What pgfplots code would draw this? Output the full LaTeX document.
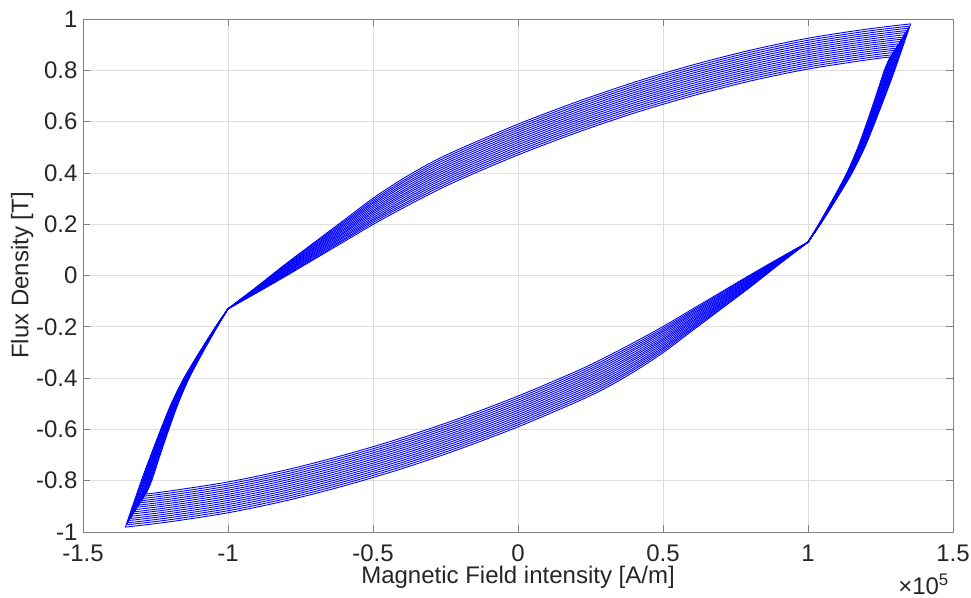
\documentclass[border=0pt]{standalone}
\usepackage{pgfplots}
\pgfplotsset{compat=1.18}
\usepackage{fontspec}
\setmainfont{Liberation Sans}
\definecolor{txtgray}{RGB}{38,38,38}
\definecolor{gridgray}{RGB}{222,222,222}
\definecolor{framegray}{RGB}{130,130,130}
\definecolor{mblue}{RGB}{0,0,255}
\begin{document}
\begin{tikzpicture}
\useasboundingbox (-83bp,-66bp) rectangle (888bp,532bp);
\begin{axis}[
  name=ax,
  at={(0bp,0bp)}, anchor=south west,
  scale only axis, width=870bp, height=513bp,
  xmin=-1.5, xmax=1.5, ymin=-1, ymax=1,
  xtick={-1.5,-1,-0.5,0,0.5,1,1.5},
  xticklabels={-1.5,-1,-0.5,0,0.5,1,1.5},
  ytick={-1,-0.8,-0.6,-0.4,-0.2,0,0.2,0.4,0.6,0.8,1},
  yticklabels={-1,-0.8,-0.6,-0.4,-0.2,0,0.2,0.4,0.6,0.8,1},
  grid=major,
  major grid style={draw=gridgray, line width=0.6bp},
  tick align=inside, tick pos=both,
  major tick length=7bp,
  axis line style={draw=framegray, line width=0.7bp},
  major tick style={draw=framegray, line width=0.7bp},
  tick label style={font=\fontsize{24bp}{28bp}\selectfont, text=txtgray},
  xticklabel style={yshift=-9bp},
  yticklabel style={xshift=-2bp},
  label style={font=\fontsize{24bp}{28bp}\selectfont, text=txtgray},
  xlabel={Magnetic Field intensity [A/m]},
  ylabel={Flux Density [T]},
  xlabel style={at={(axis description cs:0.5,-0.088)}, anchor=center},
  ylabel style={at={(axis description cs:-0.07,0.5)}, anchor=center},
  cycle list={mblue\\},
  no markers,
  every axis plot/.append style={line width=0.9bp, line join=round, smooth},
]
% loop 1
\addplot coordinates {(1,0.13)(1.037,0.2)(1.087,0.3)(1.134,0.4)(1.172,0.5)(1.204,0.6)(1.234,0.7)(1.263,0.8)(1.283,0.852)};
\addplot coordinates {(1.283,0.852)(1.2,0.840)(1,0.805)(0.8,0.758)(0.6,0.700)(0.4,0.633)(0.2,0.556)(0,0.470)(-0.2,0.374)(-0.3,0.320)(-0.4,0.261)(-0.5,0.199)(-0.6,0.132)(-0.7,0.065)(-0.8,-0.002)(-0.9,-0.067)(-1,-0.13)};
\addplot coordinates {(-1,-0.13)(-1.037,-0.2)(-1.087,-0.3)(-1.134,-0.4)(-1.172,-0.5)(-1.204,-0.6)(-1.234,-0.7)(-1.263,-0.8)(-1.283,-0.852)};
\addplot coordinates {(-1.283,-0.852)(-1.2,-0.840)(-1,-0.805)(-0.8,-0.758)(-0.6,-0.700)(-0.4,-0.633)(-0.2,-0.556)(0,-0.470)(0.2,-0.374)(0.3,-0.320)(0.4,-0.261)(0.5,-0.199)(0.6,-0.132)(0.7,-0.065)(0.8,0.002)(0.9,0.067)(1,0.13)};
% loop 2
\addplot coordinates {(1,0.13)(1.038,0.2)(1.088,0.3)(1.135,0.4)(1.174,0.5)(1.206,0.6)(1.236,0.7)(1.266,0.8)(1.288,0.860)};
\addplot coordinates {(1.288,0.860)(1.2,0.848)(1,0.813)(0.8,0.766)(0.6,0.708)(0.4,0.641)(0.2,0.564)(0,0.478)(-0.2,0.382)(-0.3,0.328)(-0.4,0.269)(-0.5,0.206)(-0.6,0.138)(-0.7,0.069)(-0.8,0.001)(-0.9,-0.065)(-1,-0.13)};
\addplot coordinates {(-1,-0.13)(-1.038,-0.2)(-1.088,-0.3)(-1.135,-0.4)(-1.174,-0.5)(-1.206,-0.6)(-1.236,-0.7)(-1.266,-0.8)(-1.288,-0.860)};
\addplot coordinates {(-1.288,-0.860)(-1.2,-0.848)(-1,-0.813)(-0.8,-0.766)(-0.6,-0.708)(-0.4,-0.641)(-0.2,-0.564)(0,-0.478)(0.2,-0.382)(0.3,-0.328)(0.4,-0.269)(0.5,-0.206)(0.6,-0.138)(0.7,-0.069)(0.8,-0.001)(0.9,0.065)(1,0.13)};
% loop 3
\addplot coordinates {(1,0.13)(1.038,0.2)(1.089,0.3)(1.136,0.4)(1.175,0.5)(1.208,0.6)(1.238,0.7)(1.268,0.8)(1.292,0.869)};
\addplot coordinates {(1.292,0.869)(1.2,0.856)(1,0.821)(0.8,0.774)(0.6,0.716)(0.4,0.649)(0.2,0.572)(0,0.486)(-0.2,0.390)(-0.3,0.336)(-0.4,0.276)(-0.5,0.213)(-0.6,0.143)(-0.7,0.074)(-0.8,0.004)(-0.9,-0.064)(-1,-0.13)};
\addplot coordinates {(-1,-0.13)(-1.038,-0.2)(-1.089,-0.3)(-1.136,-0.4)(-1.175,-0.5)(-1.208,-0.6)(-1.238,-0.7)(-1.268,-0.8)(-1.292,-0.869)};
\addplot coordinates {(-1.292,-0.869)(-1.2,-0.856)(-1,-0.821)(-0.8,-0.774)(-0.6,-0.716)(-0.4,-0.649)(-0.2,-0.572)(0,-0.486)(0.2,-0.390)(0.3,-0.336)(0.4,-0.276)(0.5,-0.213)(0.6,-0.143)(0.7,-0.074)(0.8,-0.004)(0.9,0.064)(1,0.13)};
% loop 4
\addplot coordinates {(1,0.13)(1.038,0.2)(1.089,0.3)(1.138,0.4)(1.177,0.5)(1.210,0.6)(1.241,0.7)(1.270,0.8)(1.297,0.878)};
\addplot coordinates {(1.297,0.878)(1.2,0.864)(1,0.829)(0.8,0.782)(0.6,0.724)(0.4,0.657)(0.2,0.580)(0,0.494)(-0.2,0.398)(-0.3,0.344)(-0.4,0.284)(-0.5,0.219)(-0.6,0.149)(-0.7,0.078)(-0.8,0.008)(-0.9,-0.062)(-1,-0.13)};
\addplot coordinates {(-1,-0.13)(-1.038,-0.2)(-1.089,-0.3)(-1.138,-0.4)(-1.177,-0.5)(-1.210,-0.6)(-1.241,-0.7)(-1.270,-0.8)(-1.297,-0.878)};
\addplot coordinates {(-1.297,-0.878)(-1.2,-0.864)(-1,-0.829)(-0.8,-0.782)(-0.6,-0.724)(-0.4,-0.657)(-0.2,-0.580)(0,-0.494)(0.2,-0.398)(0.3,-0.344)(0.4,-0.284)(0.5,-0.219)(0.6,-0.149)(0.7,-0.078)(0.8,-0.008)(0.9,0.062)(1,0.13)};
% loop 5
\addplot coordinates {(1,0.13)(1.039,0.2)(1.090,0.3)(1.139,0.4)(1.179,0.5)(1.212,0.6)(1.243,0.7)(1.273,0.8)(1.302,0.886)};
\addplot coordinates {(1.302,0.886)(1.2,0.872)(1,0.837)(0.8,0.790)(0.6,0.732)(0.4,0.665)(0.2,0.588)(0,0.502)(-0.2,0.406)(-0.3,0.352)(-0.4,0.291)(-0.5,0.226)(-0.6,0.154)(-0.7,0.083)(-0.8,0.011)(-0.9,-0.061)(-1,-0.13)};
\addplot coordinates {(-1,-0.13)(-1.039,-0.2)(-1.090,-0.3)(-1.139,-0.4)(-1.179,-0.5)(-1.212,-0.6)(-1.243,-0.7)(-1.273,-0.8)(-1.302,-0.886)};
\addplot coordinates {(-1.302,-0.886)(-1.2,-0.872)(-1,-0.837)(-0.8,-0.790)(-0.6,-0.732)(-0.4,-0.665)(-0.2,-0.588)(0,-0.502)(0.2,-0.406)(0.3,-0.352)(0.4,-0.291)(0.5,-0.226)(0.6,-0.154)(0.7,-0.083)(0.8,-0.011)(0.9,0.061)(1,0.13)};
% loop 6
\addplot coordinates {(1,0.13)(1.039,0.2)(1.091,0.3)(1.140,0.4)(1.180,0.5)(1.213,0.6)(1.245,0.7)(1.275,0.8)(1.307,0.895)};
\addplot coordinates {(1.307,0.895)(1.2,0.880)(1,0.845)(0.8,0.798)(0.6,0.740)(0.4,0.673)(0.2,0.596)(0,0.510)(-0.2,0.414)(-0.3,0.360)(-0.4,0.299)(-0.5,0.233)(-0.6,0.160)(-0.7,0.087)(-0.8,0.014)(-0.9,-0.059)(-1,-0.13)};
\addplot coordinates {(-1,-0.13)(-1.039,-0.2)(-1.091,-0.3)(-1.140,-0.4)(-1.180,-0.5)(-1.213,-0.6)(-1.245,-0.7)(-1.275,-0.8)(-1.307,-0.895)};
\addplot coordinates {(-1.307,-0.895)(-1.2,-0.880)(-1,-0.845)(-0.8,-0.798)(-0.6,-0.740)(-0.4,-0.673)(-0.2,-0.596)(0,-0.510)(0.2,-0.414)(0.3,-0.360)(0.4,-0.299)(0.5,-0.233)(0.6,-0.160)(0.7,-0.087)(0.8,-0.014)(0.9,0.059)(1,0.13)};
% loop 7
\addplot coordinates {(1,0.13)(1.039,0.2)(1.092,0.3)(1.141,0.4)(1.182,0.5)(1.215,0.6)(1.247,0.7)(1.277,0.8)(1.311,0.903)};
\addplot coordinates {(1.311,0.903)(1.2,0.888)(1,0.853)(0.8,0.806)(0.6,0.748)(0.4,0.681)(0.2,0.604)(0,0.518)(-0.2,0.422)(-0.3,0.368)(-0.4,0.307)(-0.5,0.240)(-0.6,0.166)(-0.7,0.091)(-0.8,0.017)(-0.9,-0.057)(-1,-0.13)};
\addplot coordinates {(-1,-0.13)(-1.039,-0.2)(-1.092,-0.3)(-1.141,-0.4)(-1.182,-0.5)(-1.215,-0.6)(-1.247,-0.7)(-1.277,-0.8)(-1.311,-0.903)};
\addplot coordinates {(-1.311,-0.903)(-1.2,-0.888)(-1,-0.853)(-0.8,-0.806)(-0.6,-0.748)(-0.4,-0.681)(-0.2,-0.604)(0,-0.518)(0.2,-0.422)(0.3,-0.368)(0.4,-0.307)(0.5,-0.240)(0.6,-0.166)(0.7,-0.091)(0.8,-0.017)(0.9,0.057)(1,0.13)};
% loop 8
\addplot coordinates {(1,0.13)(1.040,0.2)(1.093,0.3)(1.142,0.4)(1.183,0.5)(1.217,0.6)(1.249,0.7)(1.280,0.8)(1.316,0.912)};
\addplot coordinates {(1.316,0.912)(1.2,0.896)(1,0.861)(0.8,0.814)(0.6,0.756)(0.4,0.689)(0.2,0.612)(0,0.526)(-0.2,0.430)(-0.3,0.376)(-0.4,0.314)(-0.5,0.247)(-0.6,0.171)(-0.7,0.096)(-0.8,0.020)(-0.9,-0.056)(-1,-0.13)};
\addplot coordinates {(-1,-0.13)(-1.040,-0.2)(-1.093,-0.3)(-1.142,-0.4)(-1.183,-0.5)(-1.217,-0.6)(-1.249,-0.7)(-1.280,-0.8)(-1.316,-0.912)};
\addplot coordinates {(-1.316,-0.912)(-1.2,-0.896)(-1,-0.861)(-0.8,-0.814)(-0.6,-0.756)(-0.4,-0.689)(-0.2,-0.612)(0,-0.526)(0.2,-0.430)(0.3,-0.376)(0.4,-0.314)(0.5,-0.247)(0.6,-0.171)(0.7,-0.096)(0.8,-0.020)(0.9,0.056)(1,0.13)};
% loop 9
\addplot coordinates {(1,0.13)(1.040,0.2)(1.093,0.3)(1.144,0.4)(1.185,0.5)(1.219,0.6)(1.251,0.7)(1.282,0.8)(1.321,0.921)};
\addplot coordinates {(1.321,0.921)(1.2,0.904)(1,0.869)(0.8,0.822)(0.6,0.764)(0.4,0.697)(0.2,0.620)(0,0.534)(-0.2,0.438)(-0.3,0.384)(-0.4,0.322)(-0.5,0.253)(-0.6,0.177)(-0.7,0.100)(-0.8,0.024)(-0.9,-0.054)(-1,-0.13)};
\addplot coordinates {(-1,-0.13)(-1.040,-0.2)(-1.093,-0.3)(-1.144,-0.4)(-1.185,-0.5)(-1.219,-0.6)(-1.251,-0.7)(-1.282,-0.8)(-1.321,-0.921)};
\addplot coordinates {(-1.321,-0.921)(-1.2,-0.904)(-1,-0.869)(-0.8,-0.822)(-0.6,-0.764)(-0.4,-0.697)(-0.2,-0.620)(0,-0.534)(0.2,-0.438)(0.3,-0.384)(0.4,-0.322)(0.5,-0.253)(0.6,-0.177)(0.7,-0.100)(0.8,-0.024)(0.9,0.054)(1,0.13)};
% loop 10
\addplot coordinates {(1,0.13)(1.040,0.2)(1.094,0.3)(1.145,0.4)(1.186,0.5)(1.221,0.6)(1.253,0.7)(1.285,0.8)(1.326,0.929)};
\addplot coordinates {(1.326,0.929)(1.2,0.912)(1,0.877)(0.8,0.830)(0.6,0.772)(0.4,0.705)(0.2,0.628)(0,0.542)(-0.2,0.446)(-0.3,0.392)(-0.4,0.329)(-0.5,0.260)(-0.6,0.182)(-0.7,0.105)(-0.8,0.027)(-0.9,-0.053)(-1,-0.13)};
\addplot coordinates {(-1,-0.13)(-1.040,-0.2)(-1.094,-0.3)(-1.145,-0.4)(-1.186,-0.5)(-1.221,-0.6)(-1.253,-0.7)(-1.285,-0.8)(-1.326,-0.929)};
\addplot coordinates {(-1.326,-0.929)(-1.2,-0.912)(-1,-0.877)(-0.8,-0.830)(-0.6,-0.772)(-0.4,-0.705)(-0.2,-0.628)(0,-0.542)(0.2,-0.446)(0.3,-0.392)(0.4,-0.329)(0.5,-0.260)(0.6,-0.182)(0.7,-0.105)(0.8,-0.027)(0.9,0.053)(1,0.13)};
% loop 11
\addplot coordinates {(1,0.13)(1.041,0.2)(1.095,0.3)(1.146,0.4)(1.188,0.5)(1.223,0.6)(1.255,0.7)(1.287,0.8)(1.330,0.938)};
\addplot coordinates {(1.330,0.938)(1.2,0.920)(1,0.885)(0.8,0.838)(0.6,0.780)(0.4,0.713)(0.2,0.636)(0,0.550)(-0.2,0.454)(-0.3,0.400)(-0.4,0.337)(-0.5,0.267)(-0.6,0.188)(-0.7,0.109)(-0.8,0.030)(-0.9,-0.051)(-1,-0.13)};
\addplot coordinates {(-1,-0.13)(-1.041,-0.2)(-1.095,-0.3)(-1.146,-0.4)(-1.188,-0.5)(-1.223,-0.6)(-1.255,-0.7)(-1.287,-0.8)(-1.330,-0.938)};
\addplot coordinates {(-1.330,-0.938)(-1.2,-0.920)(-1,-0.885)(-0.8,-0.838)(-0.6,-0.780)(-0.4,-0.713)(-0.2,-0.636)(0,-0.550)(0.2,-0.454)(0.3,-0.400)(0.4,-0.337)(0.5,-0.267)(0.6,-0.188)(0.7,-0.109)(0.8,-0.030)(0.9,0.051)(1,0.13)};
% loop 12
\addplot coordinates {(1,0.13)(1.041,0.2)(1.096,0.3)(1.147,0.4)(1.189,0.5)(1.224,0.6)(1.257,0.7)(1.289,0.8)(1.335,0.947)};
\addplot coordinates {(1.335,0.947)(1.2,0.928)(1,0.893)(0.8,0.846)(0.6,0.788)(0.4,0.721)(0.2,0.644)(0,0.558)(-0.2,0.462)(-0.3,0.408)(-0.4,0.345)(-0.5,0.274)(-0.6,0.194)(-0.7,0.113)(-0.8,0.033)(-0.9,-0.049)(-1,-0.13)};
\addplot coordinates {(-1,-0.13)(-1.041,-0.2)(-1.096,-0.3)(-1.147,-0.4)(-1.189,-0.5)(-1.224,-0.6)(-1.257,-0.7)(-1.289,-0.8)(-1.335,-0.947)};
\addplot coordinates {(-1.335,-0.947)(-1.2,-0.928)(-1,-0.893)(-0.8,-0.846)(-0.6,-0.788)(-0.4,-0.721)(-0.2,-0.644)(0,-0.558)(0.2,-0.462)(0.3,-0.408)(0.4,-0.345)(0.5,-0.274)(0.6,-0.194)(0.7,-0.113)(0.8,-0.033)(0.9,0.049)(1,0.13)};
% loop 13
\addplot coordinates {(1,0.13)(1.042,0.2)(1.097,0.3)(1.148,0.4)(1.191,0.5)(1.226,0.6)(1.259,0.7)(1.292,0.8)(1.340,0.955)};
\addplot coordinates {(1.340,0.955)(1.2,0.936)(1,0.901)(0.8,0.854)(0.6,0.796)(0.4,0.729)(0.2,0.652)(0,0.566)(-0.2,0.470)(-0.3,0.416)(-0.4,0.352)(-0.5,0.281)(-0.6,0.199)(-0.7,0.118)(-0.8,0.036)(-0.9,-0.048)(-1,-0.13)};
\addplot coordinates {(-1,-0.13)(-1.042,-0.2)(-1.097,-0.3)(-1.148,-0.4)(-1.191,-0.5)(-1.226,-0.6)(-1.259,-0.7)(-1.292,-0.8)(-1.340,-0.955)};
\addplot coordinates {(-1.340,-0.955)(-1.2,-0.936)(-1,-0.901)(-0.8,-0.854)(-0.6,-0.796)(-0.4,-0.729)(-0.2,-0.652)(0,-0.566)(0.2,-0.470)(0.3,-0.416)(0.4,-0.352)(0.5,-0.281)(0.6,-0.199)(0.7,-0.118)(0.8,-0.036)(0.9,0.048)(1,0.13)};
% loop 14
\addplot coordinates {(1,0.13)(1.042,0.2)(1.097,0.3)(1.150,0.4)(1.193,0.5)(1.228,0.6)(1.262,0.7)(1.294,0.8)(1.345,0.964)};
\addplot coordinates {(1.345,0.964)(1.2,0.944)(1,0.909)(0.8,0.862)(0.6,0.804)(0.4,0.737)(0.2,0.660)(0,0.574)(-0.2,0.478)(-0.3,0.424)(-0.4,0.360)(-0.5,0.287)(-0.6,0.205)(-0.7,0.122)(-0.8,0.040)(-0.9,-0.046)(-1,-0.13)};
\addplot coordinates {(-1,-0.13)(-1.042,-0.2)(-1.097,-0.3)(-1.150,-0.4)(-1.193,-0.5)(-1.228,-0.6)(-1.262,-0.7)(-1.294,-0.8)(-1.345,-0.964)};
\addplot coordinates {(-1.345,-0.964)(-1.2,-0.944)(-1,-0.909)(-0.8,-0.862)(-0.6,-0.804)(-0.4,-0.737)(-0.2,-0.660)(0,-0.574)(0.2,-0.478)(0.3,-0.424)(0.4,-0.360)(0.5,-0.287)(0.6,-0.205)(0.7,-0.122)(0.8,-0.040)(0.9,0.046)(1,0.13)};
% loop 15
\addplot coordinates {(1,0.13)(1.042,0.2)(1.098,0.3)(1.151,0.4)(1.194,0.5)(1.230,0.6)(1.264,0.7)(1.296,0.8)(1.349,0.972)};
\addplot coordinates {(1.349,0.972)(1.2,0.952)(1,0.917)(0.8,0.870)(0.6,0.812)(0.4,0.745)(0.2,0.668)(0,0.582)(-0.2,0.486)(-0.3,0.432)(-0.4,0.367)(-0.5,0.294)(-0.6,0.210)(-0.7,0.127)(-0.8,0.043)(-0.9,-0.045)(-1,-0.13)};
\addplot coordinates {(-1,-0.13)(-1.042,-0.2)(-1.098,-0.3)(-1.151,-0.4)(-1.194,-0.5)(-1.230,-0.6)(-1.264,-0.7)(-1.296,-0.8)(-1.349,-0.972)};
\addplot coordinates {(-1.349,-0.972)(-1.2,-0.952)(-1,-0.917)(-0.8,-0.870)(-0.6,-0.812)(-0.4,-0.745)(-0.2,-0.668)(0,-0.582)(0.2,-0.486)(0.3,-0.432)(0.4,-0.367)(0.5,-0.294)(0.6,-0.210)(0.7,-0.127)(0.8,-0.043)(0.9,0.045)(1,0.13)};
% loop 16
\addplot coordinates {(1,0.13)(1.043,0.2)(1.099,0.3)(1.152,0.4)(1.196,0.5)(1.232,0.6)(1.266,0.7)(1.299,0.8)(1.354,0.981)};
\addplot coordinates {(1.354,0.981)(1.2,0.960)(1,0.925)(0.8,0.878)(0.6,0.820)(0.4,0.753)(0.2,0.676)(0,0.590)(-0.2,0.494)(-0.3,0.440)(-0.4,0.375)(-0.5,0.301)(-0.6,0.216)(-0.7,0.131)(-0.8,0.046)(-0.9,-0.043)(-1,-0.13)};
\addplot coordinates {(-1,-0.13)(-1.043,-0.2)(-1.099,-0.3)(-1.152,-0.4)(-1.196,-0.5)(-1.232,-0.6)(-1.266,-0.7)(-1.299,-0.8)(-1.354,-0.981)};
\addplot coordinates {(-1.354,-0.981)(-1.2,-0.960)(-1,-0.925)(-0.8,-0.878)(-0.6,-0.820)(-0.4,-0.753)(-0.2,-0.676)(0,-0.590)(0.2,-0.494)(0.3,-0.440)(0.4,-0.375)(0.5,-0.301)(0.6,-0.216)(0.7,-0.131)(0.8,-0.046)(0.9,0.043)(1,0.13)};
\end{axis}
\node[anchor=base east, inner sep=0pt, text=txtgray, font=\fontsize{24bp}{28bp}\selectfont] at ([xshift=-4bp, yshift=-62bp]ax.south east) {×10\textsuperscript{5}};
\end{tikzpicture}
\end{document}
